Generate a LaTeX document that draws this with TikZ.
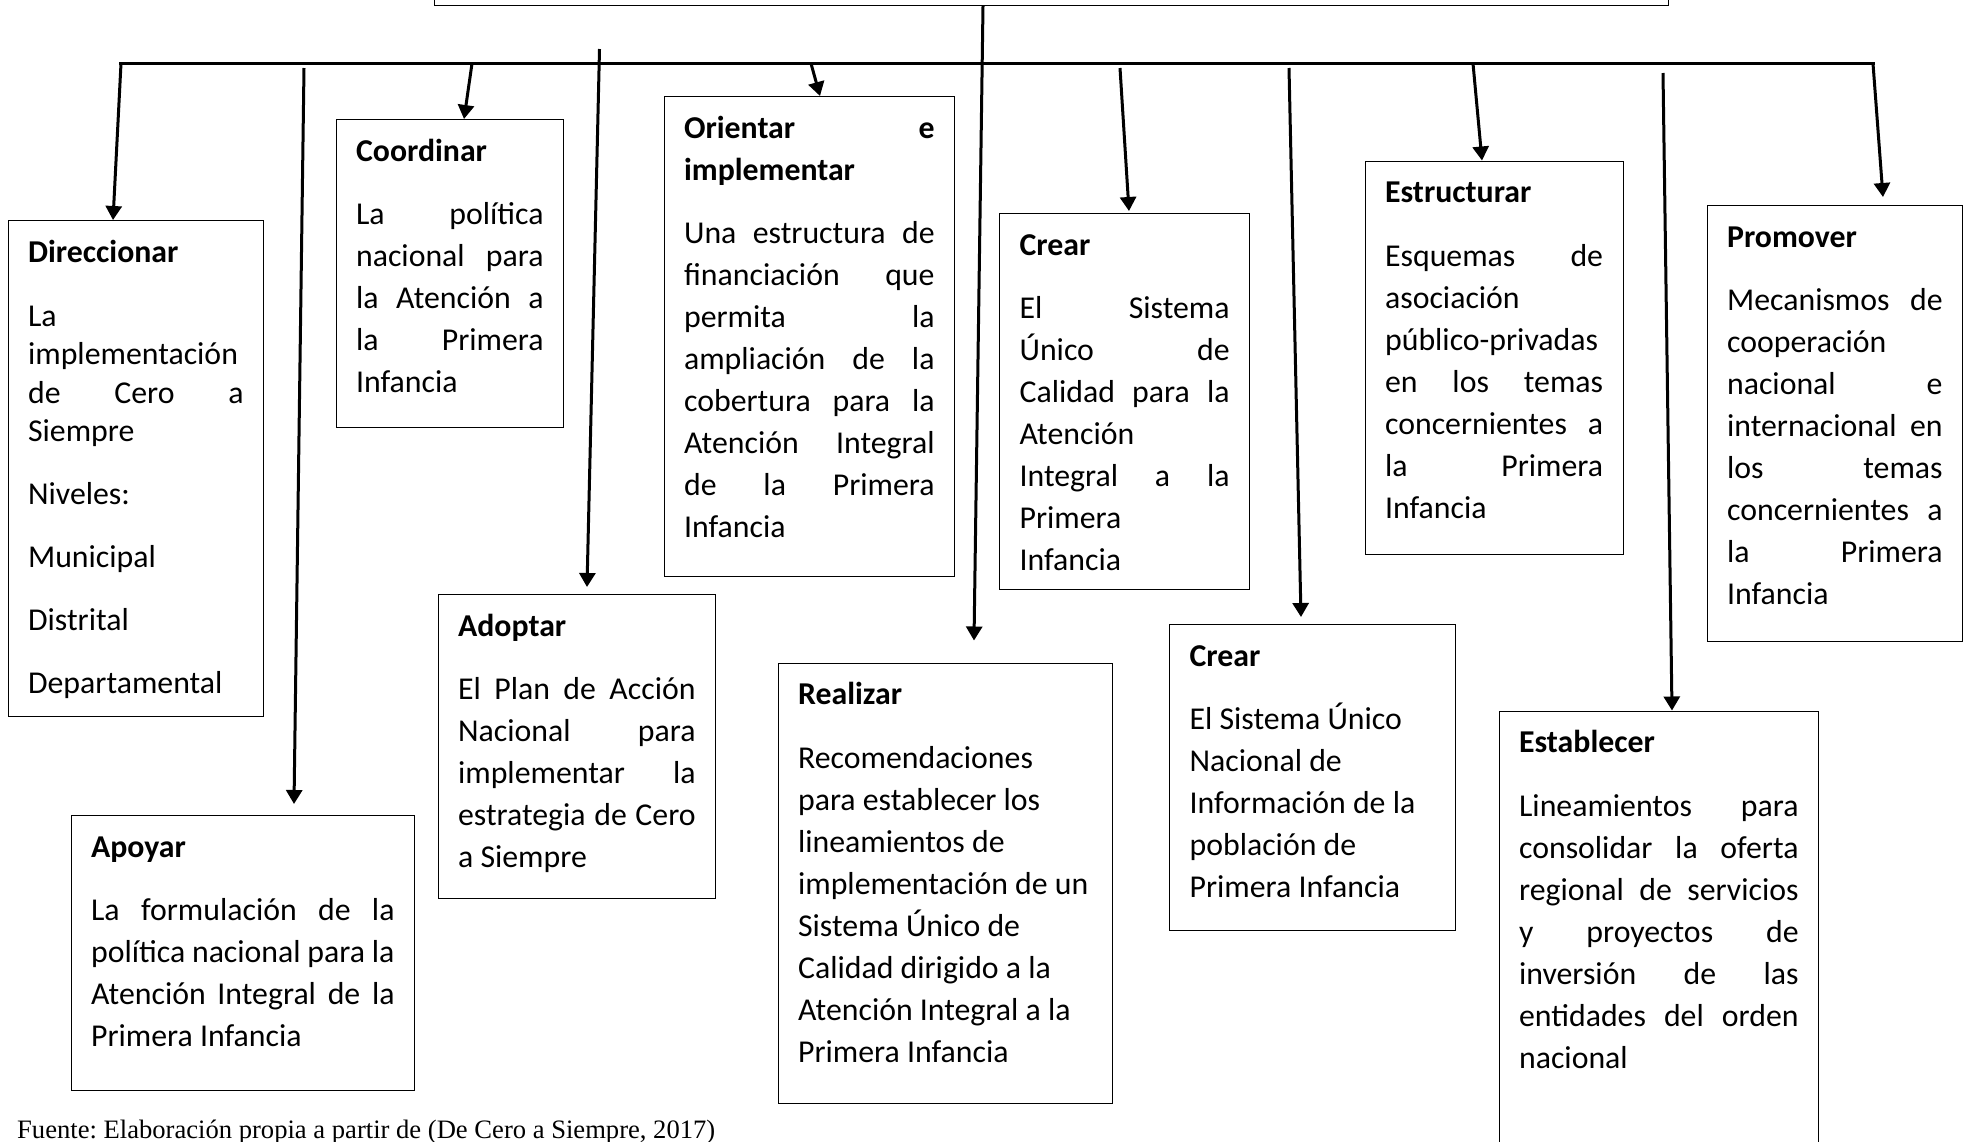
\documentclass[tikz,border=0pt]{standalone}
\usepackage{fontspec}
\setmainfont{Carlito}
\newfontfamily\srcfont{Liberation Serif}
\usetikzlibrary{calc,arrows.meta}

\newcommand\jl[1]{\hbox to \hsize{\spaceskip=\fontdimen2\font plus 1fil minus \fontdimen4\font\relax #1}}
\newcommand\nl[1]{\hbox to \hsize{#1\hfil}}
\newcommand\ts{\rule{0pt}{30pt}}
% name, x, y, width, height, baselineskip, content
\newcommand\cb[7]{%
  \node[cbox] (#1) at (#2,#3) {\vbox to #5pt{\hsize=\dimexpr#4pt-40pt\relax
    \fontsize{31.8pt}{#6pt}\selectfont\vskip11.5pt #7\vfill}};}

\tikzset{
  cbox/.style={draw=black, line width=1.2pt, inner xsep=20pt, inner ysep=0pt, anchor=north west},
  arr/.style={line width=3pt, -{Triangle[length=14pt,width=16pt]}},
  barline/.style={line width=3.6pt},
}

\begin{document}
\frenchspacing
\begin{tikzpicture}[x=1pt,y=-1pt]
\fill[white] (0,0) rectangle (1963,1141);
\useasboundingbox (0,0) rectangle (1963,1141);

% top box (cut off at the top)
\node[draw=black, line width=1.2pt, minimum width=1234pt, minimum height=80pt, anchor=south west, inner sep=0pt] (top) at (434,6) {};

% horizontal bar
\coordinate (barL) at (119,63.5);
\coordinate (barR) at (1875,63.5);
\draw[barline] (barL) -- (barR);

% boxes
\cb{dir}{7.5}{220}{255.5}{496}{38.5}{%
\nl{\ts\textbf{Direccionar}}\vskip25.5pt
\nl{La}
\nl{implementación}
\jl{de Cero a}
\nl{Siempre}\vskip24.5pt
\nl{Niveles:}\vskip24.5pt
\nl{Municipal}\vskip24.5pt
\nl{Distrital}\vskip24.5pt
\nl{Departamental}}

\cb{coo}{335.5}{119}{227.5}{308}{42}{%
\nl{\ts\textbf{Coordinar}}\vskip21.5pt
\jl{La política}
\jl{nacional para}
\jl{la Atención a}
\jl{la Primera}
\nl{Infancia}}

\cb{ori}{663.5}{96}{290.5}{480}{42}{%
\jl{\ts\bfseries Orientar e}
\nl{\bfseries implementar}\vskip21.5pt
\jl{Una estructura de}
\jl{financiación que}
\jl{permita la}
\jl{ampliación de la}
\jl{cobertura para la}
\jl{Atención Integral}
\jl{de la Primera}
\nl{Infancia}}

\cb{cra}{999}{213}{250}{376}{42}{%
\nl{\ts\textbf{Crear}}\vskip21.5pt
\jl{El Sistema}
\jl{Único de}
\jl{Calidad para la}
\nl{Atención}
\jl{Integral a la}
\nl{Primera}
\nl{Infancia}}

\cb{est}{1364.5}{160.5}{258}{393}{42}{%
\nl{\ts\textbf{Estructurar}}\vskip21.5pt
\jl{Esquemas de}
\nl{asociación}
\nl{público-privadas}
\jl{en los temas}
\jl{concernientes a}
\jl{la Primera}
\nl{Infancia}}

\cb{pro}{1706.5}{205}{255.5}{436}{42}{%
\nl{\ts\textbf{Promover}}\vskip21.5pt
\jl{Mecanismos de}
\nl{cooperación}
\jl{nacional e}
\jl{internacional en}
\jl{los temas}
\jl{concernientes a}
\jl{la Primera}
\nl{Infancia}}

\cb{apo}{70.5}{815}{343.5}{275}{42}{%
\nl{\ts\textbf{Apoyar}}\vskip21.5pt
\jl{La formulación de la}
\jl{política nacional para la}
\jl{Atención Integral de la}
\nl{Primera Infancia}}

\cb{ado}{437.5}{594}{277.5}{304}{42}{%
\nl{\ts\textbf{Adoptar}}\vskip21.5pt
\jl{El Plan de Acción}
\jl{Nacional para}
\jl{implementar la}
\jl{estrategia de Cero}
\nl{a Siempre}}

\cb{rea}{777.5}{662.5}{334.5}{440}{42}{%
\nl{\ts\textbf{Realizar}}\vskip21.5pt
\nl{Recomendaciones}
\nl{para establecer los}
\nl{lineamientos de}
\nl{implementación de un}
\nl{Sistema Único de}
\nl{Calidad dirigido a la}
\nl{Atención Integral a la}
\nl{Primera Infancia}}

\cb{crb}{1169}{624}{286}{306}{42}{%
\nl{\ts\textbf{Crear}}\vskip21.5pt
\nl{El Sistema Único}
\nl{Nacional de}
\nl{Información de la}
\nl{población de}
\nl{Primera Infancia}}

\cb{esb}{1498.5}{710.5}{319.5}{520}{42}{%
\nl{\ts\textbf{Establecer}}\vskip21.5pt
\jl{Lineamientos para}
\jl{consolidar la oferta}
\jl{regional de servicios}
\jl{y proyectos de}
\jl{inversión de las}
\jl{entidades del orden}
\nl{nacional}}

% arrow start points
\coordinate (s1) at (121,63.5);
\coordinate (s2) at (304,68);
\coordinate (s3) at (472,63.5);
\coordinate (s4) at (599.5,49);
\coordinate (s5) at (811,63.5);
\coordinate (s7) at (1120,68);
\coordinate (s8) at (1289,68);
\coordinate (s9) at (1473,63.5);
\coordinate (s10) at (1663,73);
\coordinate (s11) at (1873,63.5);

\draw[arr] (s1) -- ($(dir.north west)+(105.5,0)$);
\draw[arr] (s2) -- ($(apo.north west)+(223.5,-11)$);
\draw[arr] (s3) -- ($(coo.north west)+(128.5,0)$);
\draw[arr] (s4) -- ($(ado.north west)+(149.5,-7)$);
\draw[arr] (s5) -- ($(ori.north west)+(156.5,0)$);
\draw[arr] ($(top.south west)+(549,0)$) -- ($(rea.north west)+(196.5,-22)$);
\draw[arr] (s7) -- ($(cra.north west)+(130,-2)$);
\draw[arr] (s8) -- ($(crb.north west)+(132,-7)$);
\draw[arr] (s9) -- ($(est.north west)+(117.5,0)$);
\draw[arr] (s10) -- ($(esb.north west)+(173.5,0)$);
\draw[arr] (s11) -- ($(pro.north west)+(176.5,-8)$);

% source
\node[anchor=base west, inner sep=0pt, font=\srcfont\fontsize{26.6pt}{30pt}\selectfont] (src) at (17,1138) {Fuente: Elaboración propia a partir de (De Cero a Siempre, 2017)};
\end{tikzpicture}
\end{document}
